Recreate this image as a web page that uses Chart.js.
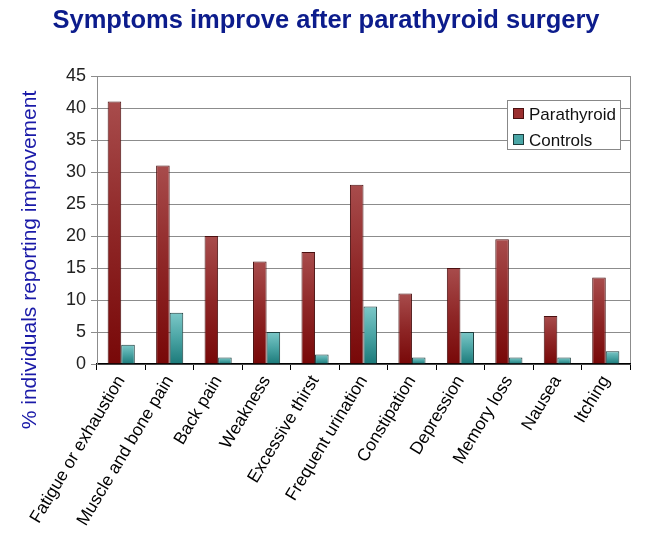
<!DOCTYPE html>
<html>
<head>
<meta charset="utf-8">
<title>Symptoms improve after parathyroid surgery</title>
<script src="https://cdn.jsdelivr.net/npm/chart.js@4/dist/chart.umd.min.js"></script>
<style>
  html, body { margin: 0; padding: 0; background: #fff; }
  #wrap { width: 650px; height: 543px; }
</style>
</head>
<body>
<div id="wrap"><canvas id="chart" width="650" height="543"></canvas></div>
<script>
const titleText = "Symptoms improve after parathyroid surgery";
const yTitle = "% individuals reporting improvement";
const symptoms = [
  "Fatigue or exhaustion", "Muscle and bone pain", "Back pain", "Weakness",
  "Excessive thirst", "Frequent urination", "Constipation", "Depression",
  "Memory loss", "Nausea", "Itching"
];
const parathyroid = [41, 31, 20, 16, 17.5, 28, 11, 15, 19.5, 7.5, 13.5];
const controls = [3, 8, 1, 5, 1.5, 9, 1, 5, 1, 1, 2];
const yMax = 45;
const yStep = 5;

const font = '"Liberation Sans", Arial, sans-serif';

// each bar gets its own top-to-bottom shading, like the old Excel look
function barGradient(top, mid, bottom) {
  return ctx => {
    const chart = ctx.chart;
    const y = chart.scales && chart.scales.y;
    if (!chart.chartArea || !y || !ctx.parsed) return mid;
    const y0 = y.getPixelForValue(0);
    const y1 = y.getPixelForValue(ctx.parsed.y);
    if (!isFinite(y0) || !isFinite(y1) || y0 === y1) return mid;
    const g = chart.ctx.createLinearGradient(0, y1, 0, y0);
    g.addColorStop(0, top);
    g.addColorStop(0.5, mid);
    g.addColorStop(1, bottom);
    return g;
  };
}

const series = [
  { label: "Parathyroid", data: parathyroid, colors: ["#a84c4c", "#8e2626", "#780808"], swatch: "#9b2f2f", border: "#4a1010" },
  { label: "Controls", data: controls, colors: ["#7cc8c8", "#4aa4a4", "#1c7a7a"], swatch: "#4aa6a6", border: "#1c3c3c" }
];

const decorations = {
  id: "decorations",
  afterDraw(chart) {
    const c = chart.ctx;
    const area = chart.chartArea;

    c.save();
    c.fillStyle = "#0c1c8c";
    c.font = "bold 25.5px " + font;
    c.textAlign = "center";
    c.textBaseline = "alphabetic";
    c.fillText(titleText, 326, 28);
    c.restore();

    c.save();
    c.translate(30, 260);
    c.rotate(-Math.PI / 2);
    c.fillStyle = "#1a1aa8";
    c.font = "21px " + font;
    c.textAlign = "center";
    c.textBaseline = "middle";
    c.fillText(yTitle, 0, 0);
    c.restore();

    // legend box inside the plot, top right
    const bw = 113, bh = 49;
    const bx = area.right - 10 - bw;
    const by = area.top + 24;
    c.save();
    c.fillStyle = "#fff";
    c.fillRect(bx, by, bw, bh);
    c.strokeStyle = "#888";
    c.lineWidth = 1;
    c.strokeRect(bx + 0.5, by + 0.5, bw, bh);
    c.font = "17px " + font;
    c.textBaseline = "middle";
    c.textAlign = "left";
    series.forEach((s, i) => {
      const cy = by + 14 + i * 26;
      c.fillStyle = s.swatch;
      c.fillRect(bx + 6, cy - 6, 11, 11);
      c.strokeStyle = s.border;
      c.strokeRect(bx + 6.5, cy - 5.5, 10, 10);
      c.fillStyle = "#111";
      c.fillText(s.label, bx + 22, cy + 1);
    });
    c.restore();
  }
};

new Chart(document.getElementById("chart"), {
  type: "bar",
  data: {
    labels: symptoms,
    datasets: series.map(s => ({
      label: s.label,
      data: s.data,
      backgroundColor: barGradient(s.colors[0], s.colors[1], s.colors[2]),
      borderColor: s.border,
      borderWidth: 1,
      categoryPercentage: 0.56,
      barPercentage: 1
    }))
  },
  options: {
    responsive: false,
    animation: false,
    layout: { padding: { top: 76, right: 20, left: 0, bottom: 0 } },
    plugins: {
      legend: { display: false },
      title: { display: false },
      tooltip: { enabled: false }
    },
    scales: {
      x: {
        afterFit: scale => { scale.height = 179; },
        grid: {
          offset: true,
          drawOnChartArea: true,
          color: ctx => ctx.type === "scale" ? "#8c8c8c" : "rgba(0,0,0,0)",
          tickColor: "#000",
          tickLength: 6
        },
        border: { color: "#000", width: 1.5 },
        ticks: {
          minRotation: 59,
          maxRotation: 59,
          autoSkip: false,
          color: "#000",
          padding: 2,
          font: { family: font, size: 17.5 }
        }
      },
      y: {
        min: 0,
        max: yMax,
        afterFit: scale => { scale.width = 97; },
        grid: { color: "#8c8c8c", tickColor: "#8c8c8c", tickLength: 6 },
        border: { color: "#8c8c8c" },
        ticks: {
          stepSize: yStep,
          color: "#222",
          padding: 5,
          font: { family: font, size: 18 }
        }
      }
    }
  },
  plugins: [decorations]
});
</script>
</body>
</html>
